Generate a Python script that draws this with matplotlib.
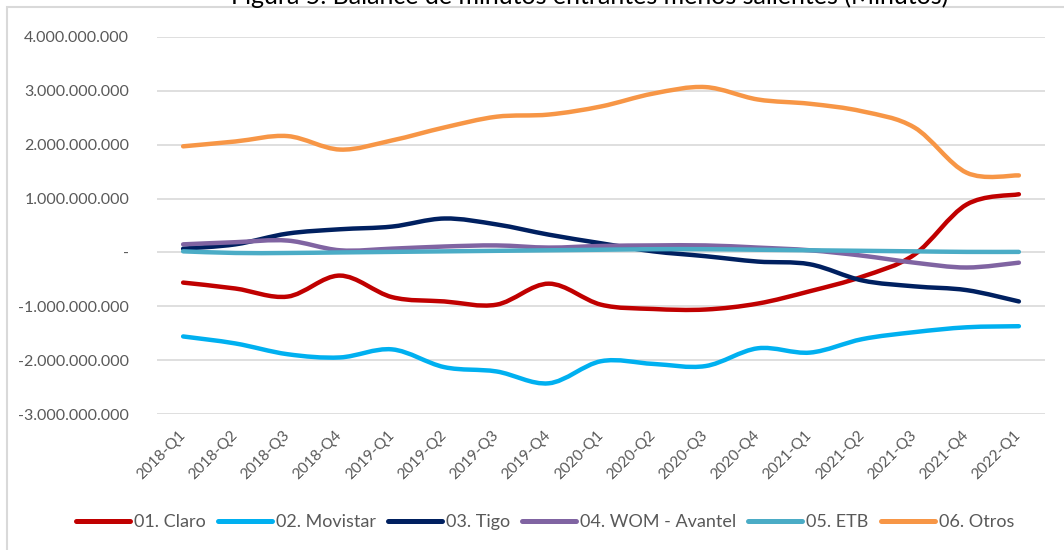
import numpy as np
import matplotlib.pyplot as plt
from matplotlib.path import Path
from matplotlib.patches import PathPatch, Rectangle
from matplotlib.lines import Line2D
from matplotlib.ticker import FuncFormatter

# Quarters on the x axis
quarters = ['2018-Q1', '2018-Q2', '2018-Q3', '2018-Q4',
            '2019-Q1', '2019-Q2', '2019-Q3', '2019-Q4',
            '2020-Q1', '2020-Q2', '2020-Q3', '2020-Q4',
            '2021-Q1', '2021-Q2', '2021-Q3', '2021-Q4', '2022-Q1']

# Balance values (in billions of units)
claro = [-0.56, -0.67, -0.82, -0.43, -0.83, -0.91, -0.97, -0.58, -0.97,
         -1.05, -1.06, -0.95, -0.72, -0.45, -0.04, 0.89, 1.08]
movistar = [-1.56, -1.69, -1.89, -1.95, -1.80, -2.13, -2.21, -2.43, -2.02,
            -2.07, -2.11, -1.78, -1.86, -1.61, -1.48, -1.39, -1.37]
tigo = [0.07, 0.15, 0.35, 0.43, 0.48, 0.63, 0.52, 0.33, 0.17,
        0.02, -0.07, -0.17, -0.22, -0.52, -0.63, -0.70, -0.91]
wom = [0.15, 0.19, 0.22, 0.04, 0.07, 0.11, 0.13, 0.09, 0.12,
       0.13, 0.13, 0.09, 0.04, -0.06, -0.19, -0.28, -0.19]
etb = [0.02, -0.01, -0.01, 0.00, 0.01, 0.02, 0.03, 0.04, 0.05,
       0.06, 0.06, 0.05, 0.04, 0.03, 0.02, 0.01, 0.01]
otros = [1.97, 2.06, 2.16, 1.91, 2.08, 2.32, 2.52, 2.56, 2.71,
         2.95, 3.07, 2.84, 2.76, 2.62, 2.32, 1.48, 1.43]

series_names = ['01. Claro', '02. Movistar', '03. Tigo', '04. WOM - Avantel', '05. ETB', '06. Otros']
series_values = [claro, movistar, tigo, wom, etb, otros]
series_colors = ['#C00000', '#00B0F0', '#002060', '#8064A2', '#4BACC6', '#F79646']

yticks = [-3e9, -2e9, -1e9, 0, 1e9, 2e9, 3e9, 4e9]

plt.rcParams['font.family'] = ['Lato', 'DejaVu Sans']
label_color = '#595959'


# Smooth curve through the points (like Excel's smoothed line)
def smooth_path(x, y):
    pts = np.column_stack([x, y])
    ext = np.vstack([pts[0], pts, pts[-1]])
    verts = [pts[0]]
    codes = [Path.MOVETO]
    for i in range(len(pts) - 1):
        p0, p1, p2, p3 = ext[i], ext[i + 1], ext[i + 2], ext[i + 3]
        c1 = p1 + (p2 - p0) / 6
        c2 = p2 - (p3 - p1) / 6
        verts += [c1, c2, p2]
        codes += [Path.CURVE4] * 3
    return Path(verts, codes)


def fmt(v, pos):
    if abs(v) < 1:
        return '-'
    s = f'{abs(v):,.0f}'.replace(',', '.')
    return ('-' if v < 0 else '') + s


fig = plt.figure(figsize=(10.64, 5.5), dpi=100)
ax = fig.add_axes([157 / 1064, 1 - 414 / 550, (1045 - 157) / 1064, (414 - 37) / 550])

x = np.arange(len(quarters))
for vals, color in zip(series_values, series_colors):
    y = np.array(vals) * 1e9
    patch = PathPatch(smooth_path(x, y), fill=False, edgecolor=color, lw=3.2,
                      capstyle='round', joinstyle='round')
    ax.add_patch(patch)

ax.set_xlim(-0.5, len(quarters) - 0.5)
ax.set_ylim(-3e9, 4e9)
ax.set_yticks(yticks)
ax.yaxis.set_major_formatter(FuncFormatter(fmt))
ax.set_xticks(x)
ax.set_xticklabels(quarters, rotation=45, ha='right', va='center', rotation_mode='anchor')
ax.grid(axis='y', color='#D9D9D9', lw=1.2)
ax.set_axisbelow(True)
for sp in ax.spines.values():
    sp.set_visible(False)
ax.tick_params(axis='both', length=0, colors=label_color, labelsize=11.5)
ax.tick_params(axis='y', pad=20)
ax.tick_params(axis='x', pad=14, labelsize=11)

handles = [Line2D([], [], color=c, lw=3.6, solid_capstyle='round') for c in series_colors]
fig.legend(handles, series_names, loc='center', bbox_to_anchor=(545 / 1064, 1 - 522 / 550),
           ncol=6, frameon=False, fontsize=13, labelcolor=label_color,
           handlelength=3.0, handletextpad=0.22, columnspacing=0.66)

# Chart border (clipped by the image edges) and clipped title
fig.patches.append(Rectangle((7 / 1064, -0.2), 1.2, 1.2 - 7 / 550, transform=fig.transFigure,
                             fill=False, edgecolor='#D9D9D9', lw=1.5))
fig.text(590 / 1064, 1 - 4 / 550, 'Figura 5. Balance de minutos entrantes menos salientes (Minutos)',
         ha='center', va='baseline', fontsize=18, color='black')

fig.savefig('out.png', dpi=100)
